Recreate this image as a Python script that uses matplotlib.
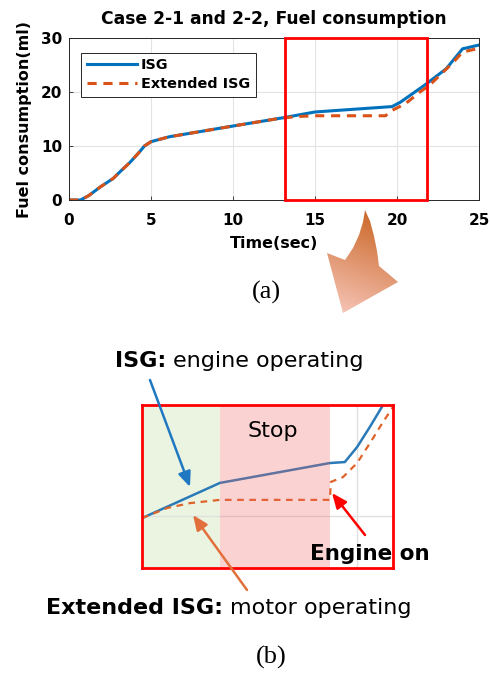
import numpy as np
import matplotlib
matplotlib.use("Agg")
import matplotlib.pyplot as plt
from matplotlib.patches import Rectangle, Polygon

# Fuel consumption, case 2-1 (ISG) and case 2-2 (Extended ISG)
time_isg = [0, 0.7, 1.2, 1.9, 2.7, 3.1, 3.7, 4.3, 4.6, 5.0, 6.1, 10, 13, 15, 19.7, 20.2, 21.0, 21.7, 23.0, 24.0, 25.0]
fuel_isg = [0, 0, 0.8, 2.4, 4.0, 5.2, 6.9, 8.9, 10.0, 10.8, 11.7, 13.7, 15.2, 16.3, 17.3, 18.1, 19.8, 21.3, 24.3, 28.0, 28.7]

time_ext = [0, 0.7, 1.2, 1.9, 2.7, 3.1, 3.7, 4.3, 4.6, 5.0, 6.1, 10, 13, 14.2, 15, 19.3, 19.7, 20.5, 21.4, 22.0, 23.4, 24.0, 25.0]
fuel_ext = [0, 0, 0.8, 2.4, 4.0, 5.2, 6.9, 8.9, 10.0, 10.8, 11.7, 13.7, 15.2, 15.5, 15.6, 15.6, 16.6, 17.8, 20.0, 21.3, 25.4, 27.4, 28.1]

# zoomed sketch of the stop phase
zoom_t_isg = [13.2, 15.87, 19.64, 20.15, 20.57, 21.01, 21.46]
zoom_f_isg = [14.93, 16.01, 16.62, 16.65, 17.11, 17.73, 18.4]
zoom_t_ext = [13.2, 14.06, 14.84, 15.87, 19.64, 19.67, 20.09, 20.57, 21.01, 21.46, 21.8]
zoom_f_ext = [14.93, 15.24, 15.39, 15.49, 15.49, 16.04, 16.19, 16.62, 17.23, 17.88, 18.34]
phase_motor = (13.2, 15.87)
phase_stop = (15.87, 19.64)

box_t = (13.17, 21.83)

c_isg = "#0072BD"
c_ext = "#D95319"

fig = plt.figure(figsize=(4.9, 6.75), dpi=100)

# ---- (a) fuel consumption ----
ax = fig.add_axes([0.1408, 0.7037, 0.8367, 0.24])
ax.plot(time_isg, fuel_isg, color=c_isg, lw=2.2, label="ISG")
ax.plot(time_ext, fuel_ext, color=c_ext, lw=2.2, ls=(0, (3, 2.2)), label="Extended ISG")
ax.set_xlim(0, 25)
ax.set_ylim(0, 30)
ax.set_xticks([0, 5, 10, 15, 20, 25])
ax.set_yticks([0, 10, 20, 30])
ax.grid(True, color="#e3e3e3", lw=0.8)
ax.set_axisbelow(True)
ax.tick_params(direction="in", length=3, width=0.6, color="#262626", labelsize=11, pad=5)
ax.tick_params(axis="x", pad=9)
for lbl in ax.get_xticklabels() + ax.get_yticklabels():
    lbl.set_fontweight("bold")
for s in ax.spines.values():
    s.set_color("#262626")
    s.set_linewidth(0.7)
ax.set_title("Case 2-1 and 2-2, Fuel consumption", fontsize=12.3, fontweight="bold", pad=10)
ax.set_xlabel("Time(sec)", fontsize=11.5, fontweight="bold", labelpad=6)
ax.set_ylabel("Fuel consumption(ml)", fontsize=11.5, fontweight="bold", labelpad=6)
leg = ax.legend(loc="upper left", bbox_to_anchor=(0.012, 0.955), prop={"weight": "bold", "size": 10.4},
                handlelength=3.5, handletextpad=0.25, borderpad=0.4, labelspacing=0.35,
                fancybox=False, edgecolor="#262626", framealpha=1)
leg.get_frame().set_linewidth(0.7)
ax.add_patch(Rectangle((box_t[0], 0), box_t[1] - box_t[0], 30, fill=False,
                       edgecolor="#ff0000", lw=2, clip_on=False, zorder=5))

# ---- (b) zoomed sketch ----
axz = fig.add_axes([0.2898, 0.1585, 0.5122, 0.2415])
axz.axvspan(*phase_motor, color="#ebf4e1", zorder=0, lw=0)
axz.axvspan(*phase_stop, color="#f26060", alpha=0.28, zorder=4, lw=0)
axz.axvline(20.57, color="#e0e0e0", lw=1, zorder=1)
axz.axhline(15.0, color="#e0e0e0", lw=1, zorder=1)
axz.plot(zoom_t_isg, zoom_f_isg, color="#2a7ab8", lw=1.8, zorder=3)
axz.plot(zoom_t_ext, zoom_f_ext, color="#e0642a", lw=1.6, ls=(0, (3, 2.5)), zorder=3)
axz.set_xlim(13.2, 21.8)
axz.set_ylim(13.4, 18.4)
axz.set_xticks([])
axz.set_yticks([])
for s in axz.spines.values():
    s.set_color("#ff0000")
    s.set_linewidth(2)
    s.set_zorder(6)

# ---- overlay in pixel coordinates for labels and arrows ----
ov = fig.add_axes([0, 0, 1, 1], zorder=10)
ov.set_xlim(0, 490)
ov.set_ylim(675, 0)
ov.axis("off")

sans = ["DejaVu Sans"]
serif = ["Liberation Serif", "DejaVu Serif"]

ov.text(266, 292, "(a)", fontsize=19, family=serif, ha="center", va="center")
ov.text(271, 657, "(b)", fontsize=19, family=serif, ha="center", va="center")

renderer = fig.canvas.get_renderer()


def two_part(x, y, bold, rest, size):
    t = ov.text(x, y, bold, fontsize=size, family=sans, fontweight="bold", ha="left", va="baseline")
    bb = t.get_window_extent(renderer)
    x1 = ov.transData.inverted().transform((bb.x1, bb.y0))[0]
    ov.text(x1 + 7, y, rest, fontsize=size, family=sans, ha="left", va="baseline")


two_part(115, 367, "ISG:", "engine operating", 16)
two_part(46, 614, "Extended ISG:", "motor operating", 16)
ov.text(273, 437, "Stop", fontsize=16, family=sans, ha="center", va="baseline")
ov.text(310, 560, "Engine on", fontsize=15.5, family=sans, fontweight="bold", ha="left", va="baseline")

arrow = dict(arrowstyle="-|>,head_length=0.9,head_width=0.38", lw=1.8, shrinkA=0, shrinkB=0)
ov.annotate("", xy=(190, 487), xytext=(150, 380), arrowprops=dict(arrow, color="#1f78c1"))
ov.annotate("", xy=(193, 515), xytext=(247, 590), arrowprops=dict(arrow, color="#e2703c"))
ov.annotate("", xy=(332, 493), xytext=(365, 535), arrowprops=dict(arrow, color="#ff0000"))

# curved gradient arrow pointing from the box down to the sketch
shape = [(365, 210), (370, 221), (374, 236), (377, 251), (379, 266), (398, 282),
         (343, 313), (327, 253), (345, 260), (353, 248), (359, 235), (363, 222)]
poly = Polygon(shape, closed=True, facecolor="none", edgecolor="none")
ov.add_patch(poly)
gy, gx = np.mgrid[0:1:120j, 0:1:90j]
g = np.clip(gy * 0.85 + (1 - gx) * 0.25, 0, 1)
dark = np.array([0.77, 0.35, 0.07])
light = np.array([0.96, 0.76, 0.70])
img = dark[None, None, :] * (1 - g[..., None]) + light[None, None, :] * g[..., None]
im = ov.imshow(img, extent=(320, 400, 315, 205), origin="upper", aspect="auto", zorder=2)
im.set_clip_path(poly)
ov.set_xlim(0, 490)
ov.set_ylim(675, 0)

fig.savefig("out.png", dpi=100)
